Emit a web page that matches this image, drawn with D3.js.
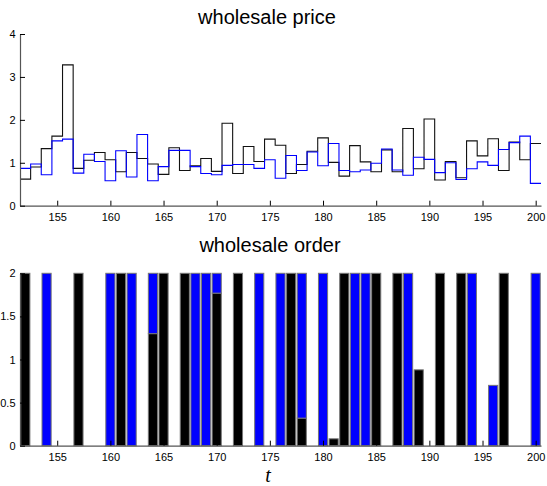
<!DOCTYPE html>
<html><head><meta charset="utf-8">
<script src="https://cdn.jsdelivr.net/npm/d3@7"></script>
<style>body{margin:0;background:#fff}svg{display:block}</style>
</head><body>
<svg id="c" width="547" height="486"></svg>
<script>
const t = d3.range(152, 201);
const priceBlack = [0.62,0.90,1.33,1.62,3.28,0.87,1.06,1.24,1.07,0.79,1.24,1.10,0.97,0.73,1.35,0.82,0.93,1.10,0.80,1.92,0.75,1.38,1.03,1.55,1.41,0.75,0.96,1.27,1.58,1.01,0.69,1.40,1.02,0.79,1.30,0.79,1.80,0.86,2.02,0.60,1.03,0.65,1.51,1.16,1.56,0.82,1.48,1.07,1.45];
const priceBlue  = [0.87,0.97,0.72,1.51,1.55,0.76,1.20,1.03,0.58,1.28,0.67,1.66,0.58,0.91,1.29,1.29,0.91,0.75,0.72,0.94,0.96,0.96,0.87,1.07,0.64,1.17,0.82,1.25,0.93,1.45,0.82,0.79,0.83,0.99,1.32,0.83,0.71,1.13,1.08,0.77,1.00,0.61,0.86,1.02,0.94,1.31,1.47,1.62,0.52];
const orderBlack = [2,0,0,0,0,2,0,0,0,2,0,0,1.3,2,0,2,0,0,1.77,0,2,0,0,0,0,2,0.32,0,0,0.08,2,0,0,2,0,2,0,0.88,0,2,0,2,0,0,0,2,0,0,0];
const orderBlue  = [0,0,2,0,0,0,0,0,2,0,2,0,0.7,0,0,0,2,2,0.23,0,0,0,2,0,2,0,1.68,0,2,0,0,2,2,0,0,0,2,0,0,0,0,0,2,0,0.7,0,0,0,2];
const xTicks = [155,160,165,170,175,180,185,190,195,200];
const priceTicks = [0,1,2,3,4];
const orderTicks = [0,0.5,1,1.5,2];

const svg = d3.select("#c");
const x = d3.scaleLinear().domain([151.5, 200.5]).range([20, 541]);
const yP = d3.scaleLinear().domain([0, 4]).range([205.7, 34]);
const yO = d3.scaleLinear().domain([0, 2]).range([445.7, 273.3]);
const axisColor = "#555";
const tickFont = "Liberation Sans, Arial, sans-serif";

function drawAxes(y, yTicks, fmt) {
  const gx = svg.append("g").attr("transform", `translate(0,${y.range()[0]})`)
    .call(d3.axisBottom(x).tickValues(xTicks).tickSizeInner(-5).tickSizeOuter(0).tickPadding(8).tickFormat(d3.format("d")));
  const gy = svg.append("g").attr("transform", `translate(${x.range()[0]},0)`)
    .call(d3.axisLeft(y).tickValues(yTicks).tickSizeInner(-5).tickSizeOuter(0).tickPadding(4.5).tickFormat(fmt));
  [gx, gy].forEach(g => {
    g.select(".domain").attr("stroke", axisColor).attr("stroke-width", 1.2);
    g.selectAll(".tick line").attr("stroke", "#000");
    g.selectAll("text").attr("font-family", tickFont).attr("font-size", 11).attr("fill", "#000");
  });
  return [gx, gy];
}

// top panel: step lines
function stepPts(vals) {
  const pts = [];
  vals.forEach((v, i) => { pts.push([t[i] - 0.5, v]); pts.push([t[i] + 0.5, v]); });
  return pts;
}
const line = d3.line().x(d => x(d[0])).y(d => yP(d[1]));
svg.append("path").attr("d", line(stepPts(priceBlack))).attr("fill", "none").attr("stroke", "#111").attr("stroke-width", 1.1);
svg.append("path").attr("d", line(stepPts(priceBlue))).attr("fill", "none").attr("stroke", "#0000ff").attr("stroke-width", 1.1);
drawAxes(yP, priceTicks, d3.format("d"));

// bottom panel: stacked bars
const bw = 0.86;
const bars = svg.append("g");
t.forEach((tt, i) => {
  const b = orderBlack[i], u = orderBlue[i];
  bars.append("rect").attr("x", x(tt - bw/2)).attr("width", x(tt + bw/2) - x(tt - bw/2))
    .attr("y", yO(b)).attr("height", yO(0) - yO(b))
    .attr("fill", "#000").attr("stroke", "#777").attr("stroke-width", 1);
  if (u > 0) bars.append("rect").attr("x", x(tt - bw/2)).attr("width", x(tt + bw/2) - x(tt - bw/2))
    .attr("y", yO(b + u)).attr("height", yO(b) - yO(b + u))
    .attr("fill", "#0000ff").attr("stroke", "#777").attr("stroke-width", 1);
});
drawAxes(yO, orderTicks, d => String(d));

// titles
const titleFont = "Liberation Sans, Arial, sans-serif";
svg.append("text").attr("x", 267).attr("y", 24).attr("text-anchor", "middle")
  .attr("font-family", titleFont).attr("font-size", 20).text("wholesale price");
svg.append("text").attr("x", 270).attr("y", 252).attr("text-anchor", "middle")
  .attr("font-family", titleFont).attr("font-size", 20).text("wholesale order");
svg.append("text").attr("x", 268).attr("y", 482).attr("text-anchor", "middle")
  .attr("font-family", "Liberation Serif, serif").attr("font-style", "italic").attr("font-size", 20).text("t");
</script>
</body></html>
